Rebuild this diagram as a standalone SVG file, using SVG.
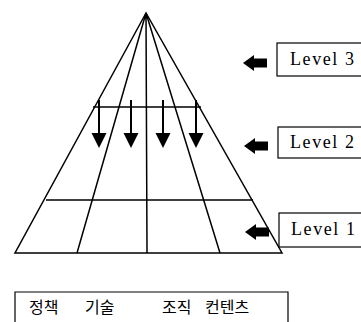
<svg xmlns="http://www.w3.org/2000/svg" width="361" height="322" viewBox="0 0 361 322">
<style>
.ln{stroke:#000;stroke-width:1.5;fill:none}
.sh{stroke:#000;stroke-width:2;fill:none}
.box{stroke:#000;stroke-width:1.2;fill:#fff}
.lv{font-family:"Liberation Serif",serif;font-size:18px;fill:#000}
.kr{font-family:"Noto Sans CJK KR",sans-serif;font-size:16px;fill:#000}
</style>
<defs>
<path id="down" d="M-7.5,33 L7.5,33 L0,48 Z"/>
<path id="left" d="M0,0 L11,-8 L11,-4.5 L24,-4.5 L24,4.5 L11,4.5 L11,8 Z"/>
</defs>
<rect width="361" height="322" fill="#fff"/>
<g id="pyramid">
<path class="ln" d="M146,13 L15,253 L282,253 Z"/>
<path class="ln" d="M146,13 L77,253 M146,13 L147,253 M146,13 L220,253"/>
<path class="ln" d="M93,107 L201,107 M46,200 L253,200"/>
</g>
<g id="connectors">
<g transform="translate(99,100)"><path class="sh" d="M0,0 V34"/><use href="#down"/></g>
<g transform="translate(131,100)"><path class="sh" d="M0,0 V34"/><use href="#down"/></g>
<g transform="translate(163,100)"><path class="sh" d="M0,0 V34"/><use href="#down"/></g>
<g transform="translate(196,100)"><path class="sh" d="M0,0 V34"/><use href="#down"/></g>
<use href="#left" x="243" y="63"/>
<use href="#left" x="244" y="146"/>
<use href="#left" x="245" y="232"/>
</g>
<g id="level3">
<rect class="box" x="277" y="43" width="90" height="33"/>
<text class="lv" x="290" y="65" textLength="64">Level 3</text>
</g>
<g id="level2">
<rect class="box" x="278" y="127" width="90" height="31"/>
<text class="lv" x="290" y="148" textLength="64">Level 2</text>
</g>
<g id="level1">
<rect class="box" x="279" y="213" width="90" height="34"/>
<text class="lv" x="291" y="235" textLength="64">Level 1</text>
</g>
<g id="categories">
<path class="box" d="M15,322 V292 H288 V322" style="fill:none"/>
<text class="kr" x="29" y="313">정책</text>
<text class="kr" x="85" y="313">기술</text>
<text class="kr" x="162" y="313">조직</text>
<text class="kr" x="205" y="313">컨텐츠</text>
</g>
</svg>
